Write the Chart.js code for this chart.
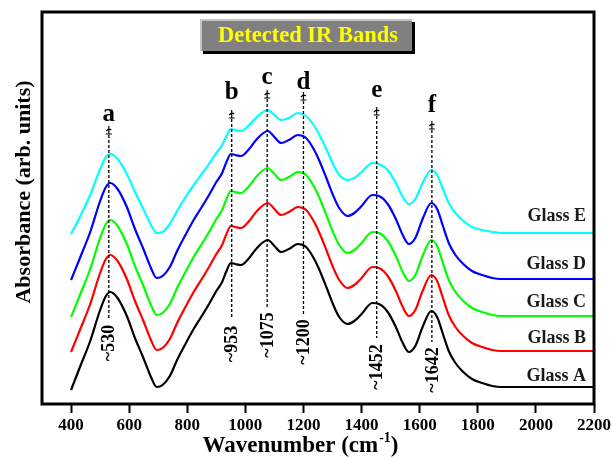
<!DOCTYPE html>
<html><head><meta charset="utf-8">
<script src="https://cdn.jsdelivr.net/npm/chart.js@4/dist/chart.umd.min.js"></script>
<style>html,body{margin:0;padding:0;background:#fff}#wrap{width:613px;height:457px}</style>
</head><body><div id="wrap"><canvas id="c" width="613" height="457"></canvas></div>
<script>
// ---- data ----
const wavenumbers = [400,432,466,500,520,535,560,592,620,649,675,695,715,740,765,790,820,850,877,900,920,935,950,965,985,1010,1040,1077,1100,1123,1150,1180,1209,1235,1255,1280,1300,1323,1352,1375,1400,1437,1460,1490,1518,1540,1563,1585,1610,1640,1660,1680,1700,1723,1750,1780,1815,1850,1880,2200];
const glassA = [14,38,63,94,108,112,106,88,66,46,27,17,19,28,44,58,74,88,101,113,122,133,141,140,139,145,156,164,158,152,155,160,157,146,134,116,101,87,80,83,90,101,100,92,77,62,52,58,77,93,87,70,53,41,32,25,21,18,17,17];
const glassB = [52,75,100,131,145,149,143,125,103,83,64,54,56,65,81,95,111,125,138,150,159,170,178,177,176,182,193,201,195,189,192,197,194,183,171,153,138,124,116,119,126,137,136,128,113,98,88,94,113,129,123,106,89,77,68,61,57,54,53,53];
const glassC = [87,110,135,166,180,184,178,160,138,118,99,89,91,100,116,130,146,160,173,185,194,205,213,212,211,217,228,236,230,224,227,232,229,218,206,188,173,159,151,154,161,172,171,163,148,133,123,129,148,164,158,141,124,112,103,96,92,89,88,88];
const glassD = [124,147,172,203,217,221,215,197,175,155,136,126,128,137,153,167,183,197,210,222,231,242,250,249,248,254,265,273,267,261,264,269,266,255,243,225,210,196,188,191,198,209,208,200,185,170,160,166,185,201,195,178,161,149,140,133,129,126,125,125];
const glassE = [170,188,209,235,247,250,245,230,212,195,179,171,172,180,193,205,218,230,241,251,259,268,275,274,273,278,287,294,289,284,286,291,288,279,269,254,241,229,224,226,232,241,240,234,221,208,200,205,221,234,229,215,201,191,183,177,174,172,171,171];
const seriesNames = ['Glass A','Glass B','Glass C','Glass D','Glass E'];
const xTicks = [400,600,800,1000,1200,1400,1600,1800,2000,2200];
const bandPositions = [530,953,1075,1200,1452,1642];
const bandLetters = ['a','b','c','d','e','f'];
const bandLabels = ['~530','~953','~1075','~1200','~1452','~1642'];
const chartTitle = 'Detected IR Bands';
const xTitleMain = 'Wavenumber (cm';
const xTitleSup = '-1';
const yTitle = 'Absorbance (arb. units)';

// ---- styles / layout ----
const seriesColors = ['#000000','#ff0000','#00ff00','#0000ff','#00ffff'];
const SERIF = '"Liberation Serif", "Times New Roman", serif';
const letterBaseline = [121,99,84,89,97,112];
const arrowTop = [126,110,90,92,107,121];
const lineBottom = [320,318,307,315,338,342];
const labelCenterY = [343,344,335,342,367,370];
const glassLabelY = [376,338.5,302.5,264,216.5];

const series = [glassA, glassB, glassC, glassD, glassE];

function drawArrow(ctx, x, y){
  ctx.save();
  ctx.strokeStyle = '#000'; ctx.lineWidth = 1.2;
  ctx.beginPath();
  ctx.moveTo(x, y); ctx.lineTo(x, y+8);
  ctx.moveTo(x-3, y+8); ctx.lineTo(x+3, y+8);
  ctx.moveTo(x-2.5, y+5); ctx.quadraticCurveTo(x, y+2, x+2.5, y+4);
  ctx.stroke();
  ctx.restore();
}

const decor = {
  id: 'decor',
  afterDraw(chart){
    const {ctx, chartArea:a, scales:{x, y}} = chart;
    ctx.save();
    // frame
    ctx.lineWidth = 3; ctx.strokeStyle = '#000';
    ctx.strokeRect(a.left, a.top, a.right - a.left, a.bottom - a.top);

    // title box
    const bx = 200, by = 19, bw = 212, bh = 32;
    ctx.fillStyle = '#000';
    ctx.fillRect(bx + 3, by + 3, bw, bh);
    ctx.fillStyle = '#808080';
    ctx.fillRect(bx, by, bw, bh);
    ctx.fillStyle = '#c4c4c4';
    ctx.fillRect(bx, by, bw, 2);
    ctx.fillRect(bx, by, 2, bh);
    ctx.fillStyle = '#ffff00';
    ctx.font = 'bold 22.5px ' + SERIF;
    ctx.textAlign = 'center'; ctx.textBaseline = 'middle';
    ctx.fillText(chartTitle, bx + bw/2 + 2, by + bh/2 + 1);

    // band annotations
    bandPositions.forEach((w, i) => {
      const px = x.getPixelForValue(w);
      ctx.fillStyle = '#000';
      ctx.font = 'bold 25px ' + SERIF;
      ctx.textAlign = 'center'; ctx.textBaseline = 'alphabetic';
      ctx.fillText(bandLetters[i], px, letterBaseline[i]);
      drawArrow(ctx, px, arrowTop[i]);
      ctx.save();
      ctx.setLineDash([3, 2]);
      ctx.lineWidth = 1.3; ctx.strokeStyle = '#000';
      ctx.beginPath();
      ctx.moveTo(px, arrowTop[i] + 9);
      ctx.lineTo(px, lineBottom[i]);
      ctx.stroke();
      ctx.restore();
      ctx.save();
      ctx.translate(px + 1, labelCenterY[i]);
      ctx.rotate(-Math.PI/2);
      ctx.font = 'bold 18px ' + SERIF;
      ctx.textAlign = 'center'; ctx.textBaseline = 'middle';
      ctx.fillStyle = '#000';
      ctx.fillText(bandLabels[i], 0, 0);
      ctx.restore();
    });

    // series labels
    ctx.font = 'bold 18px ' + SERIF;
    ctx.textAlign = 'right'; ctx.textBaseline = 'middle';
    ctx.fillStyle = '#1a1a1a';
    seriesNames.forEach((n, i) => ctx.fillText(n, 586, glassLabelY[i]));

    // x title
    ctx.fillStyle = '#000';
    ctx.textAlign = 'left'; ctx.textBaseline = 'alphabetic';
    ctx.font = 'bold 23px ' + SERIF;
    const w1 = ctx.measureText(xTitleMain).width;
    ctx.font = 'bold 14px ' + SERIF;
    const w2 = ctx.measureText(xTitleSup).width;
    ctx.font = 'bold 23px ' + SERIF;
    const w3 = ctx.measureText(')').width;
    let sx = 300 - (w1 + w2 + w3) / 2;
    const base = 452;
    ctx.fillText(xTitleMain, sx, base);
    ctx.font = 'bold 14px ' + SERIF;
    ctx.fillText(xTitleSup, sx + w1 + 1, base - 10);
    ctx.font = 'bold 23px ' + SERIF;
    ctx.fillText(')', sx + w1 + w2 + 1, base);

    // y title
    ctx.save();
    ctx.translate(24, 192);
    ctx.rotate(-Math.PI/2);
    ctx.font = 'bold 22px ' + SERIF;
    ctx.textAlign = 'center'; ctx.textBaseline = 'middle';
    ctx.fillText(yTitle, 0, 0);
    ctx.restore();
    ctx.restore();
  }
};

new Chart(document.getElementById('c').getContext('2d'), {
  type: 'line',
  data: {
    datasets: series.map((s, i) => ({
      label: seriesNames[i],
      data: wavenumbers.map((w, j) => ({x: w, y: s[j]})),
      borderColor: seriesColors[i],
      borderWidth: 2.2,
      pointRadius: 0,
      cubicInterpolationMode: 'monotone',
      fill: false
    }))
  },
  options: {
    responsive: false, animation: false, devicePixelRatio: 1,
    layout: {padding: {left: 42, top: 12, right: 18, bottom: 0}},
    plugins: {legend: {display: false}, tooltip: {enabled: false}},
    scales: {
      x: {
        type: 'linear', min: 300, max: 2200,
        afterBuildTicks: s => { s.ticks = xTicks.map(v => ({value: v})); },
        afterFit: s => { s.height = 53; },
        grid: {display: true, drawOnChartArea: false, drawTicks: true, tickLength: 9, tickWidth: 2, tickColor: '#000'},
        border: {display: false},
        ticks: {font: {family: SERIF, size: 17, weight: 'bold'}, color: '#000', padding: 2, maxRotation: 0, autoSkip: false,
                callback: v => String(v)}
      },
      y: {min: 0, max: 392, display: false}
    }
  },
  plugins: [decor]
});
</script></body></html>
